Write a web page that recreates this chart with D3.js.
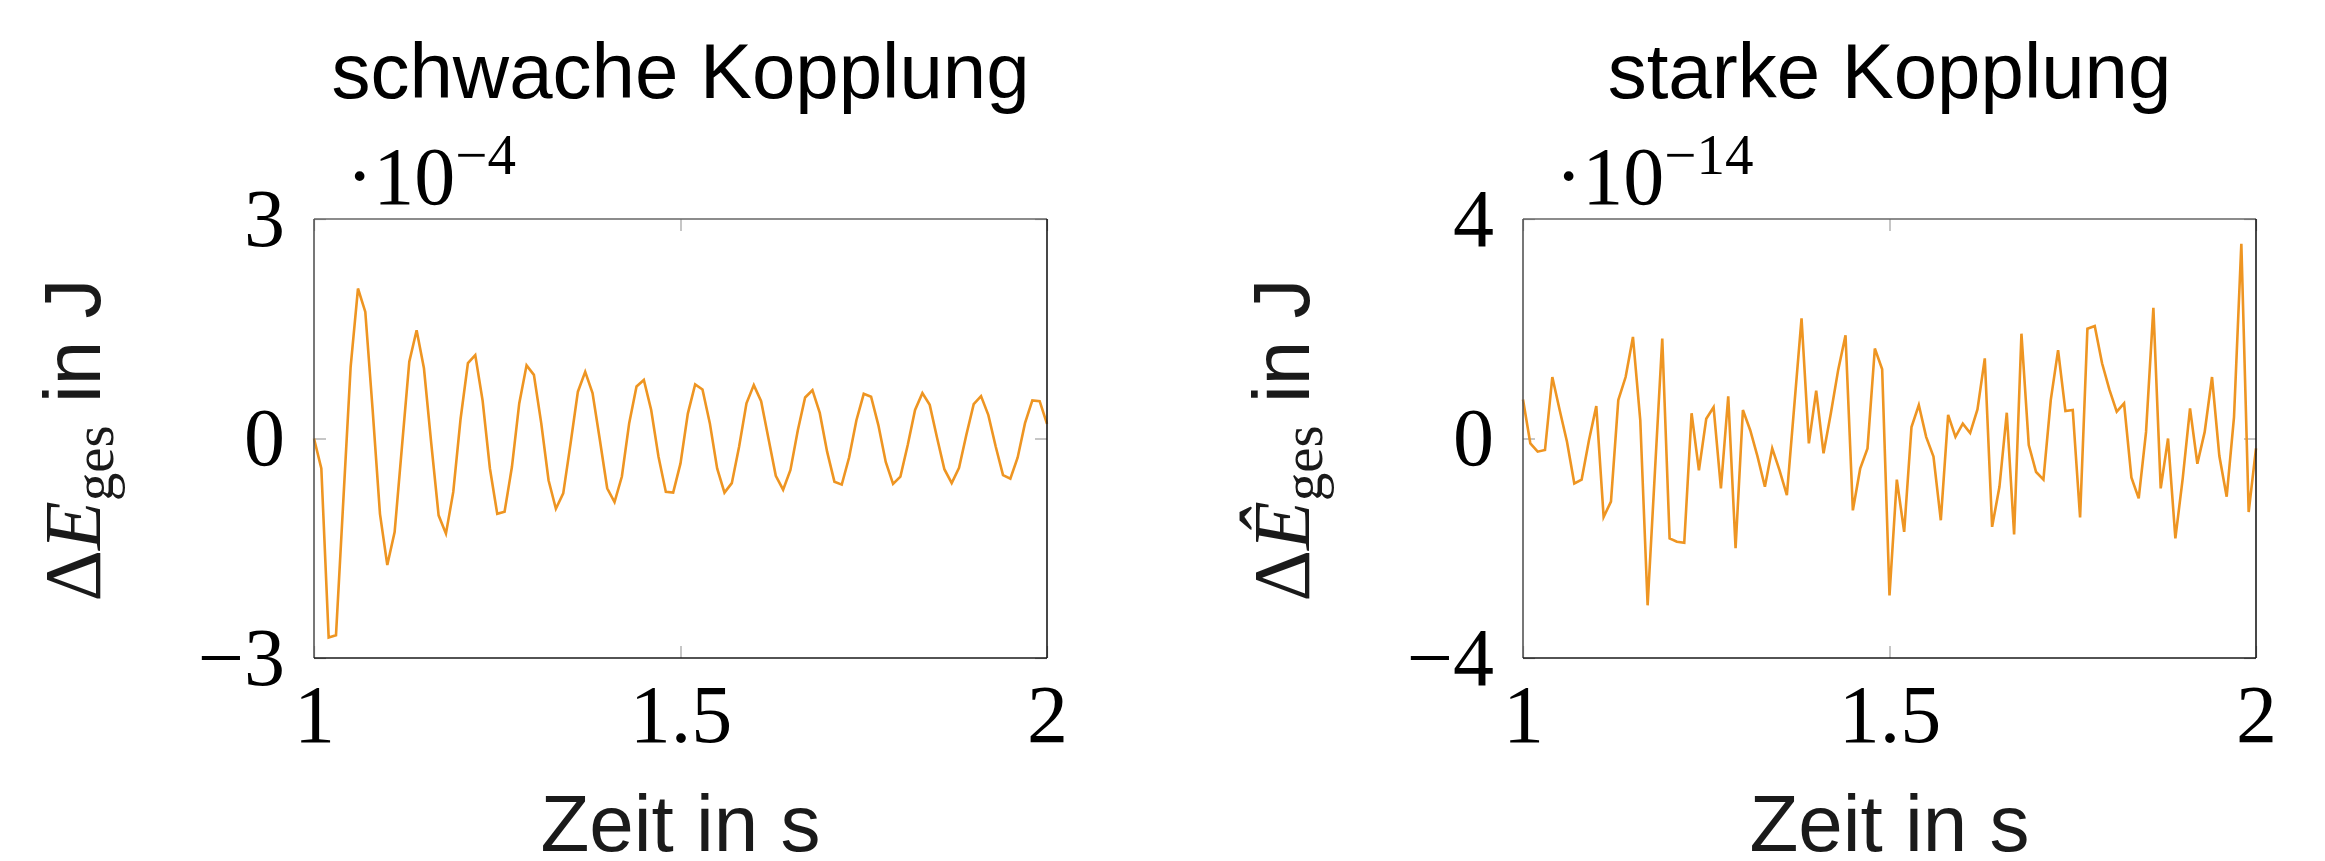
<!DOCTYPE html>
<html>
<head>
<meta charset="utf-8">
<script src="https://cdn.jsdelivr.net/npm/d3@7"></script>
<style>
  html, body { margin: 0; padding: 0; background: #fff; }
  svg { display: block; }
  .sans { font-family: "Liberation Sans", Arial, sans-serif; }
  .serif { font-family: "Liberation Serif", "Times New Roman", serif; }
</style>
</head>
<body>
<svg id="chart" width="2325" height="861"></svg>
<script>
// sample grid: 1 s to 2 s in steps of 0.01 s
const TIME = d3.range(0, 101).map((i) => 1 + i * 0.01);
const X_TICKS = [1, 1.5, 2];

// weak coupling, values in 1e-4 J
const WEAK = [
  0.00, -0.41, -2.72, -2.69, -0.85, 0.98, 2.05, 1.73, 0.39, -1.03,
  -1.73, -1.28, -0.11, 1.05, 1.48, 0.96, -0.07, -1.05, -1.30, -0.73,
  0.27, 1.03, 1.14, 0.52, -0.41, -1.03, -1.00, -0.39, 0.48, 1.00,
  0.87, 0.21, -0.57, -0.96, -0.75, -0.07, 0.64, 0.91, 0.62, -0.02,
  -0.68, -0.87, -0.52, 0.21, 0.71, 0.80, 0.39, -0.25, -0.73, -0.74,
  -0.34, 0.34, 0.74, 0.67, 0.21, -0.41, -0.74, -0.61, -0.11, 0.48,
  0.73, 0.51, 0.00, -0.51, -0.70, -0.43, 0.11, 0.56, 0.66, 0.35,
  -0.18, -0.59, -0.63, -0.26, 0.25, 0.61, 0.57, 0.18, -0.32, -0.62,
  -0.52, -0.09, 0.39, 0.62, 0.46, 0.01, -0.42, -0.61, -0.40, 0.05,
  0.47, 0.58, 0.32, -0.11, -0.50, -0.55, -0.26, 0.21, 0.52, 0.51,
  0.20,
];
const WEAK_TICKS = [-3, 0, 3];

// strong coupling, values in 1e-14 J
const STRONG = [
  0.71, -0.09, -0.24, -0.21, 1.12, 0.52, -0.06, -0.82, -0.75, -0.03,
  0.59, -1.43, -1.15, 0.70, 1.12, 1.85, 0.33, -3.04, -0.60, 1.82,
  -1.82, -1.88, -1.90, 0.46, -0.58, 0.36, 0.57, -0.91, 0.77, -2.00,
  0.52, 0.15, -0.33, -0.88, -0.18, -0.58, -1.03, 0.58, 2.19, -0.09,
  0.87, -0.27, 0.46, 1.25, 1.88, -1.31, -0.55, -0.18, 1.64, 1.26,
  -2.86, -0.75, -1.70, 0.21, 0.61, 0.03, -0.33, -1.49, 0.43, 0.03,
  0.27, 0.10, 0.53, 1.46, -1.61, -0.88, 0.47, -1.75, 1.91, -0.12,
  -0.61, -0.75, 0.70, 1.61, 0.50, 0.52, -1.44, 2.00, 2.05, 1.37,
  0.89, 0.49, 0.64, -0.71, -1.09, 0.12, 2.38, -0.91, 0.00, -1.82,
  -0.73, 0.55, -0.46, 0.12, 1.12, -0.32, -1.06, 0.39, 3.55, -1.34,
  -0.18,
];
const STRONG_TICKS = [-4, 0, 4];

const LINE_COLOR = "#ee9522";
const svg = d3.select("#chart");

function drawPanel(opts) {
  const left = opts.left;
  const width = 733;
  const top = 219;
  const height = 439;

  const x = d3.scaleLinear().domain([1, 2]).range([0, width]);
  const y = d3.scaleLinear().domain(d3.extent(opts.ticks)).range([height, 0]);

  const g = svg.append("g").attr("transform", `translate(${left},${top})`);

  // title
  svg.append("text")
    .attr("class", "sans")
    .attr("x", left + width / 2)
    .attr("y", 98)
    .attr("text-anchor", "middle")
    .attr("font-size", 78)
    .attr("fill", "#000")
    .text(opts.title);

  // axes with inward ticks
  const yAxis = g.append("g")
    .call(d3.axisLeft(y).tickValues(opts.ticks).tickSize(-12).tickPadding(29).tickFormat(d3.format("d")));
  const yAxisR = g.append("g").attr("transform", `translate(${width},0)`)
    .call(d3.axisRight(y).tickValues(opts.ticks).tickSize(-12).tickFormat(""));
  const xAxis = g.append("g").attr("transform", `translate(0,${height})`)
    .call(d3.axisBottom(x).tickValues(X_TICKS).tickSize(-12).tickPadding(26).tickFormat((d) => String(d)));
  const xAxisT = g.append("g")
    .call(d3.axisTop(x).tickValues(X_TICKS).tickSize(-12).tickFormat(""));

  [yAxis, yAxisR, xAxis, xAxisT].forEach((a) => {
    a.select(".domain").remove();
    a.selectAll(".tick line").attr("stroke", "#a0a0a0").attr("stroke-width", 1.2);
    a.selectAll(".tick text")
      .attr("class", "serif")
      .attr("font-size", 82)
      .attr("fill", "#000");
  });

  // data line
  const line = d3.line()
    .x((d, i) => x(TIME[i]))
    .y((d) => y(d));
  g.append("path")
    .datum(opts.values)
    .attr("fill", "none")
    .attr("stroke", LINE_COLOR)
    .attr("stroke-width", 2.6)
    .attr("stroke-linejoin", "miter")
    .attr("d", line);

  // frame
  g.append("line").attr("x1", 0).attr("x2", width).attr("y1", 0).attr("y2", 0)
    .attr("stroke", "#666").attr("stroke-width", 1.6);
  g.append("line").attr("x1", 0).attr("x2", 0).attr("y1", 0).attr("y2", height)
    .attr("stroke", "#555").attr("stroke-width", 1.6);
  g.append("line").attr("x1", 0).attr("x2", width).attr("y1", height).attr("y2", height)
    .attr("stroke", "#1a1a1a").attr("stroke-width", 1.6);
  g.append("line").attr("x1", width).attr("x2", width).attr("y1", 0).attr("y2", height)
    .attr("stroke", "#1a1a1a").attr("stroke-width", 1.6);

  // multiplier
  const mult = svg.append("text")
    .attr("class", "serif")
    .attr("x", left + 32)
    .attr("y", 204)
    .attr("font-size", 82)
    .attr("fill", "#000");
  mult.append("tspan").text("\u00b710");
  mult.append("tspan").attr("font-size", 57).attr("dy", -30).text(opts.exponent);

  // y label
  const yl = svg.append("text")
    .attr("transform", `translate(${left - 214},440) rotate(-90)`)
    .attr("text-anchor", "middle")
    .attr("font-size", 80)
    .attr("fill", "#1a1a1a");
  yl.append("tspan").attr("class", "serif").text("\u0394");
  yl.append("tspan").attr("class", "serif").attr("font-style", "italic").text(opts.symbol);
  yl.append("tspan").attr("class", "serif").attr("font-size", 57).attr("dy", 13).text("ges");
  yl.append("tspan").attr("class", "sans").attr("dy", -13).text(" in J");

  // x label
  svg.append("text")
    .attr("class", "sans")
    .attr("x", left + width / 2)
    .attr("y", 851)
    .attr("text-anchor", "middle")
    .attr("font-size", 80)
    .attr("fill", "#1a1a1a")
    .text("Zeit in s");
}

drawPanel({ left: 314, title: "schwache Kopplung", values: WEAK, ticks: WEAK_TICKS, exponent: "\u22124", symbol: "E" });
drawPanel({ left: 1523, title: "starke Kopplung", values: STRONG, ticks: STRONG_TICKS, exponent: "\u221214", symbol: "\u00ca" });
</script>
</body>
</html>
